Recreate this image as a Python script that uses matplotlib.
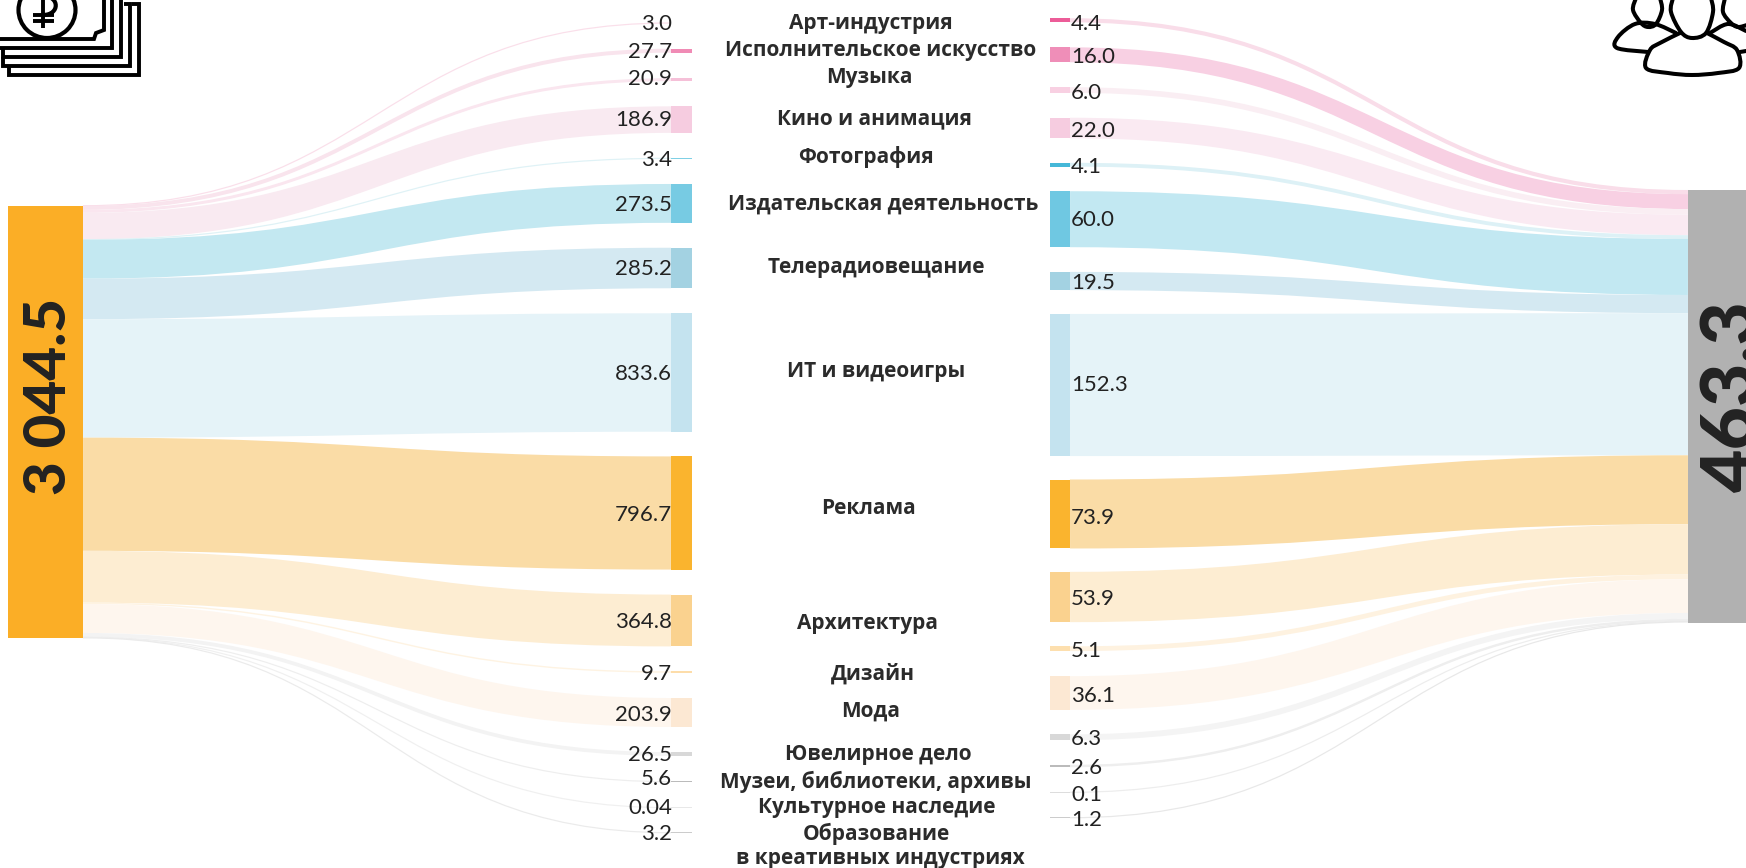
import matplotlib
matplotlib.use('Agg')
import matplotlib.pyplot as plt
from matplotlib.path import Path
from matplotlib.patches import PathPatch, Rectangle, Ellipse

plt.rcParams['font.family'] = ['Lato', 'Noto Sans', 'DejaVu Sans']

# Category names, top to bottom
categories = ['Арт-индустрия', 'Исполнительское искусство', 'Музыка', 'Кино и анимация',
              'Фотография', 'Издательская деятельность', 'Телерадиовещание', 'ИТ и видеоигры',
              'Реклама', 'Архитектура', 'Дизайн', 'Мода', 'Ювелирное дело',
              'Музеи, библиотеки, архивы', 'Культурное наследие',
              'Образование', 'в креативных индустриях']

# Values (billion rubles on the left, thousand people on the right)
left_values = [3.0, 27.7, 20.9, 186.9, 3.4, 273.5, 285.2, 833.6, 796.7, 364.8, 9.7, 203.9, 26.5, 5.6, 0.04, 3.2]
right_values = [4.4, 16.0, 6.0, 22.0, 4.1, 60.0, 19.5, 152.3, 73.9, 53.9, 5.1, 36.1, 6.3, 2.6, 0.1, 1.2]
left_labels = ['3.0', '27.7', '20.9', '186.9', '3.4', '273.5', '285.2', '833.6', '796.7', '364.8', '9.7',
               '203.9', '26.5', '5.6', '0.04', '3.2']
right_labels = ['4.4', '16.0', '6.0', '22.0', '4.1', '60.0', '19.5', '152.3', '73.9', '53.9', '5.1', '36.1',
                '6.3', '2.6', '0.1', '1.2']
left_total = '3 044.5'
right_total = '463.3'

# Layout: pixel rows of the node centres and of the text
left_centres = [23, 50.7, 79.7, 119.6, 158.3, 203.4, 268, 372.5, 513, 620.5, 672, 712.5, 754, 781.7, 807.7, 832.7]
right_centres = [20.3, 54.8, 90, 128, 164.7, 219.2, 281, 385, 514, 597, 648.7, 693, 737.3, 766, 792.3, 817.7]
left_text_y = [22, 50, 77, 118, 158, 203, 267, 372, 513, 620, 672, 713, 753, 777, 806, 832]
right_text_y = [22, 55, 90.7, 129, 165, 218, 280.7, 383, 515.5, 596.7, 648.7, 694, 736.7, 766, 793, 818]
name_x = [871, 880.5, 869.7, 874, 865.5, 883, 876.7, 876.5, 868.6, 867.4, 873, 870.3, 878.7, 875.8, 877, 876.7, 880]
name_y = [21.7, 49, 76, 117.7, 156, 202.7, 265.7, 369.7, 506.6, 622.4, 672, 710, 753, 780, 806, 832.7, 856.7]

# Colours
left_node_colors = ['#F5C6DA', '#F08BB5', '#F5C0D8', '#F6CCE0', '#7FD0E5', '#77CBE3', '#A3D2E2', '#C4E3EF',
                    '#FAB42E', '#FAD28F', '#FDDDAA', '#FCE8D3', '#D8D8D8', '#BBBBBB', '#E8E8E8', '#CCCCCC']
right_node_colors = ['#EC5C98', '#EF8EB8', '#F8D0E2', '#F6CCE0', '#45B8D8', '#6FC8E2', '#A3D2E2', '#C4E3EF',
                     '#FAB42E', '#FAD28F', '#FDDFAE', '#FCE8D3', '#D8D8D8', '#BBBBBB', '#DDDDDD', '#CCCCCC']
left_link_colors = ['#FADFEA', '#F9E4ED', '#FAE6EF', '#F9EAF1', '#DFF2F6', '#C3E8F1', '#D4E9F2', '#E5F3F8',
                    '#FADCA6', '#FDEDD2', '#FEF3E2', '#FEF6EE', '#F3F3F3', '#EEEEEE', '#F0F0F0', '#EBEBEB']
right_link_colors = ['#F9DDE9', '#F8D0E3', '#FAEEF3', '#FAEAF2', '#DDF1F6', '#C2E8F2', '#D4E9F2', '#E5F3F8',
                     '#FADCA6', '#FDEDD2', '#FEF2E0', '#FEF6EE', '#F4F4F4', '#EEEEEE', '#EDEDED', '#E8E8E8']

fig = plt.figure(figsize=(17.46, 8.68), dpi=100)
ax = fig.add_axes([0, 0, 1, 1])
ax.set_xlim(0, 1746)
ax.set_ylim(868, 0)
ax.axis('off')

TEXT = '#222222'
PX = 72 / 100  # points per pixel


def draw_link(x0, y0, x1, y1, thick, color):
    mid = (x0 + x1) / 2
    path = Path([(x0, y0), (mid, y0), (mid, y1), (x1, y1)],
                [Path.MOVETO, Path.CURVE4, Path.CURVE4, Path.CURVE4])
    ax.add_patch(PathPatch(path, fill=False, edgecolor=color, lw=max(thick, 1.2) * PX,
                           capstyle='butt', zorder=1))


def draw_node(x0, x1, yc, thick, color, z=2):
    thick = max(thick, 0.8)
    ax.add_patch(Rectangle((x0, yc - thick / 2), x1 - x0, thick, facecolor=color, edgecolor='none', zorder=z))


# Total bars
big_h = 432.5
left_scale = big_h / sum(left_values)
right_scale = big_h / sum(right_values)
left_top = 205.5
right_top = 190

# Left half of the flow
y = left_top
for v, yc, nc, lc in zip(left_values, left_centres, left_node_colors, left_link_colors):
    t = v * left_scale
    draw_link(83, y + t / 2, 671, yc, t, lc)
    draw_node(671, 692, yc, t, nc)
    y += t

# Right half of the flow
y = right_top
for v, yc, nc, lc in zip(right_values, right_centres, right_node_colors, right_link_colors):
    t = v * right_scale
    draw_link(1070, yc, 1688, y + t / 2, t, lc)
    draw_node(1050, 1070, yc, t, nc)
    y += t

ax.add_patch(Rectangle((8, left_top), 75, big_h, facecolor='#FBAE26', edgecolor='none', zorder=3))
ax.add_patch(Rectangle((1688, right_top), 58, big_h, facecolor='#B1B1B1', edgecolor='none', zorder=3))

ax.text(49, 396, left_total, rotation=90, ha='center', va='center', fontsize=42, fontweight='black',
        color=TEXT, zorder=4)
ax.text(1734, 396, right_total, rotation=90, ha='center', va='center', fontsize=54, fontweight='black',
        color=TEXT, zorder=4, clip_on=True)

for lab, yy in zip(left_labels, left_text_y):
    ax.text(672, yy + 2, lab, ha='right', va='center', fontsize=16, color=TEXT, zorder=4)
for lab, yy in zip(right_labels, right_text_y):
    ax.text(1071, yy + 2, lab, ha='left', va='center', fontsize=16, color=TEXT, zorder=4)
for name, xx, yy in zip(categories, name_x, name_y):
    ax.text(xx, yy + 1.5, name, ha='center', va='center', fontsize=15, fontweight='bold', family='Open Sans',
            color='#2B2B2B', zorder=4)


# Money icon, top left
def stroke(points, lw=3.0):
    xs = [p[0] for p in points]
    ys = [p[1] for p in points]
    ax.plot(xs, ys, color='black', lw=lw * PX * 1.3, solid_capstyle='butt', solid_joinstyle='miter', zorder=5)


stroke([(-2, 39), (94, 39), (96, 33), (104, 30), (104, -2)])
stroke([(-2, 48), (112, 48), (112, -2)])
stroke([(3, 48), (3, 57), (121, 57), (121, -2)])
stroke([(3, 57), (3, 66), (130, 66), (130, 4), (124, 4)])
stroke([(9, 66), (9, 75), (139, 75), (139, 4), (132, 4)])
ax.add_patch(Ellipse((47, 10), 57, 56, facecolor='none', edgecolor='black', lw=3.0, zorder=5))
stroke([(43, -2), (43, 28)])
stroke([(33, 15), (54, 15)])
stroke([(33, 21), (54, 21)])
ax.add_patch(PathPatch(Path([(43, 15), (60, 15), (60, -4), (43, -4)],
                            [Path.MOVETO, Path.CURVE4, Path.CURVE4, Path.CURVE4]),
                       fill=False, edgecolor='black', lw=3.0, zorder=5))


# People icon, top right
def smooth(points, face='none', z=5):
    # Catmull-Rom through the outline points
    verts = [points[0]]
    codes = [Path.MOVETO]
    n = len(points)
    for i in range(n - 1):
        p0 = points[max(i - 1, 0)]
        p1 = points[i]
        p2 = points[i + 1]
        p3 = points[min(i + 2, n - 1)]
        verts += [(p1[0] + (p2[0] - p0[0]) / 6, p1[1] + (p2[1] - p0[1]) / 6),
                  (p2[0] - (p3[0] - p1[0]) / 6, p2[1] - (p3[1] - p1[1]) / 6),
                  p2]
        codes += [Path.CURVE4] * 3
    ax.add_patch(PathPatch(Path(verts, codes), facecolor=face, edgecolor='black', lw=2.9, zorder=z,
                           capstyle='round', joinstyle='round'))


smooth([(1676, 33), (1655, 24), (1635, 24), (1618, 37), (1617, 48), (1648, 52)])
smooth([(1636, -2), (1633, 10), (1641, 23), (1648, 27), (1656, 24), (1662, 10), (1660, -2)])
smooth([(1710, 33), (1728, 24), (1746, 31)])
smooth([(1740, 52), (1746, 51)])
smooth([(1725, -2), (1723, 12), (1731, 23), (1738, 27), (1747, 25)])
smooth([(1680, 33), (1660, 43), (1650, 50), (1646, 68), (1668, 73), (1692, 75), (1718, 73), (1739, 68),
        (1737, 50), (1724, 42), (1707, 33)], face='white', z=6)
smooth([(1673, -2), (1671, 12), (1681, 32), (1692, 38), (1706, 33), (1713, 12), (1711, -2)], z=6)

fig.savefig('out.png', dpi=100)
